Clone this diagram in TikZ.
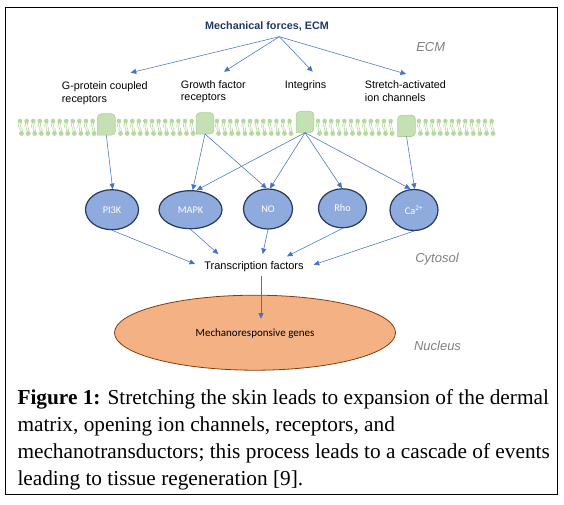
\documentclass[tikz,border=0pt]{standalone}
\usepackage{fontspec}
\setmainfont{Liberation Serif}
\setsansfont{Liberation Sans}
\newfontfamily\calibri{Carlito}
\usetikzlibrary{arrows.meta,shapes.geometric}

\definecolor{flowblue}{HTML}{4472C4}
\definecolor{titlenavy}{HTML}{203864}
\definecolor{regiongray}{HTML}{7F7F7F}
\definecolor{pathfill}{HTML}{8FAADC}
\definecolor{pathedge}{HTML}{253A5E}
\definecolor{recgreen}{HTML}{C5E0B4}
\definecolor{recedge}{HTML}{A9D18E}
\definecolor{genefill}{HTML}{F4B183}
\definecolor{geneedge}{HTML}{843C0C}

\tikzstyle{flow} = [draw, flowblue, line width=0.55pt, -{Triangle[length=5.5pt,width=5pt]}]
\tikzstyle{toplabel} = [font=\sffamily\fontsize{10.8}{12.7}\selectfont, align=left, inner sep=0pt, anchor=north west]
\tikzstyle{region} = [font=\sffamily\itshape\fontsize{13}{15}\selectfont, text=regiongray, inner sep=0pt, anchor=base]
\tikzstyle{pathway} = [ellipse, draw=pathedge, line width=1.2pt, fill=pathfill, text=white, font=\calibri\fontsize{10.3}{12}\selectfont, inner sep=0pt]
\tikzstyle{receptor} = [rectangle, minimum width=17.4pt, minimum height=21pt, inner sep=0pt]
\tikzstyle{receptor box} = [fill=recgreen, draw=recedge, line width=0.6pt]
\tikzstyle{lipid} = [fill=recedge, opacity=0.85]
\tikzstyle{lipid tail} = [draw=recedge, opacity=0.85, line width=0.7pt]
\tikzstyle{caption} = [font=\fontsize{21.3}{26.9}\selectfont, align=left, inner sep=0pt, anchor=north west]

\begin{document}
\begin{tikzpicture}[x=1pt,y=-1pt]
       \useasboundingbox (0,0) rectangle (564,505);
       \draw[line width=1.1pt] (5.3,7.3) rectangle (557.3,494.3);

       \node[font=\sffamily\bfseries\fontsize{10.8}{13}\selectfont, text=titlenavy, inner sep=0pt, anchor=base] (title) at (267,30) {Mechanical forces, ECM};
       \coordinate (hub) at (279.3,36.7);
       \node[region] (ecm) at (430.7,51.3) {ECM};
       \node[region] (cytosol) at (437,262.7) {Cytosol};
       \node[region] (nucleus) at (437.5,350) {Nucleus};

       \foreach \pos/\name/\txt in {{(61.7,81.3)/gpcrlab/G-protein coupled\\receptors}, {(180.7,80.1)/gfrlab/Growth factor\\receptors}, {(284.7,80.1)/itglab/Integrins}, {(364.7,80.8)/saclab/Stretch-activated\\ion channels}} {
           \node[toplabel] (\name) at \pos {\txt};
       }
       \foreach \sink/\dx/\dy in {gpcrlab/69/-8.6, gfrlab/43.3/-8.4, itglab/28/-8.4, saclab/41.3/-6.8} {
           \draw[flow] (hub) -- ([shift={(\dx,\dy)}]\sink.north west);
       }

       \foreach \a in {20,119,217,318,419} {
           \foreach \i in {0,...,11} {
               \fill[lipid] ({\a+6.6*\i},121) circle[radius=2.3pt];
               \fill[lipid] ({\a+6.6*\i+1.5},133.5) circle[radius=2.4pt];
               \draw[lipid tail] ({\a+6.6*\i-1},123) -- ++(-0.8,4.3) ({\a+6.6*\i+1},123) -- ++(-0.8,4.3);
               \draw[lipid tail] ({\a+6.6*\i+0.5},131.5) -- ++(-0.8,-4) ({\a+6.6*\i+2.5},131.5) -- ++(-0.8,-4);
           }
       }
       \foreach \pos/\name in {{(106.3,124.5)/gpcr}, {(205,123.3)/gfr}, {(305,122)/itg}, {(406.5,125.8)/sac}} {
           \node[receptor] (\name) at \pos {};
           \path[receptor box] (\name.south west) [rounded corners=4pt] -- (\name.north west) -- (\name.north east) -- (\name.south east) [sharp corners] -- cycle;
       }

       \foreach \pos/\name/\w/\h/\txt in {{(112,209.7)/pik/53/40/PI3K}, {(190.5,209.7)/mapk/63/38/MAPK}, {(268,209)/no/49/40/NO}, {(342.5,208.3)/rho/48/39/Rho}, {(414,210)/ca/48/41/Ca\textsuperscript{2+}}} {
           \node[pathway, minimum width=\w pt, minimum height=\h pt] (\name) at \pos {\txt};
       }
       \foreach \source/\sink/\dx in {gpcr/pik/0.7, gfr/mapk/2.2, gfr/no/-1.3, itg/mapk/6.2, itg/no/2, itg/rho/-0.5, itg/ca/-3.7, sac/ca/0.7} {
           \draw[flow] (\source.south) -- ([xshift=\dx pt]\sink.north);
       }

       \node[font=\sffamily\fontsize{11}{13}\selectfont, inner sep=0pt, anchor=base] (tf) at (254,269.7) {Transcription factors};
       \foreach \source/\dx/\dy in {pik/-59/-5.7, mapk/-35.7/-15.7, no/8.7/-15.7, rho/33/-13.4, ca/59.7/-5} {
           \draw[flow] (\source.south) -- ([shift={(\dx,\dy)}]tf.base);
       }

       \node[ellipse, fill=genefill, draw=geneedge, line width=0.8pt, minimum width=281pt, minimum height=75pt] (nuc) at (255,332.7) {};
       \node[font=\calibri\fontsize{11}{13}\selectfont, inner sep=0pt, anchor=base] (genes) at (255,336.8) {Mechanoresponsive genes};
       \draw[flow] ([shift={(7,6.6)}]tf.base) -- ([shift={(6,-18.1)}]genes.base);

       \node[caption] (caption) at (17.3,389.3) {\textbf{Figure 1:} Stretching the skin leads to expansion of the dermal\\matrix, opening ion channels, receptors, and\\mechanotransductors; this process leads to a cascade of events\\leading to tissue regeneration [9].};
\end{tikzpicture}
\end{document}
